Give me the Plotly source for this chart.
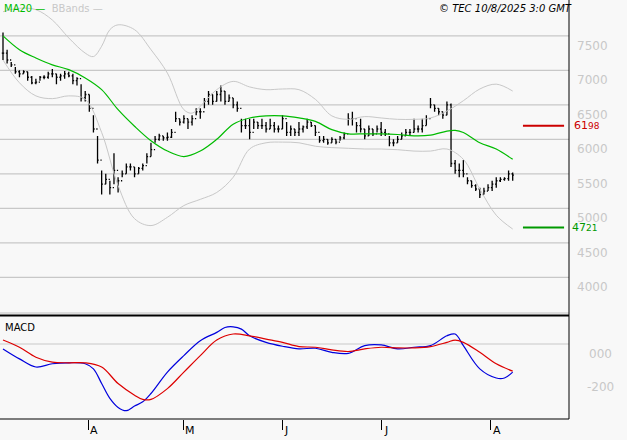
import plotly.graph_objects as go

highs = [7550,7300,7120,7050,7000,7000,6980,6920,6880,6920,6930,6980,7020,6950,6950,6990,6980,6950,6900,6800,
         6700,6650,6350,6050,5550,5500,5400,5800,5450,5550,5650,5650,5600,5600,5650,5800,5950,6050,6080,6050,
         6100,6150,6400,6300,6350,6300,6350,6450,6450,6600,6700,6650,6700,6780,6700,6650,6600,6550,6300,6300,
         6300,6300,6250,6300,6250,6300,6250,6200,6350,6250,6200,6150,6250,6200,6300,6250,6200,6050,6050,6000,
         6030,6000,6050,6100,6380,6400,6250,6300,6150,6200,6150,6200,6250,6150,6050,6000,6050,6100,6150,6150,
         6300,6200,6300,6350,6600,6500,6450,6400,6550,6520,5700,5650,5700,5450,5400,5350,5300,5300,5350,5400,
         5450,5450,5450,5550,5520]
lows = [7150,7100,7050,6950,6900,6950,6850,6800,6800,6850,6870,6880,6900,6800,6850,6880,6900,6800,6780,6550,
        6550,6400,6100,5650,5200,5350,5200,5350,5230,5450,5500,5550,5450,5500,5550,5650,5750,5950,5980,5980,
        5980,6020,6250,6200,6230,6150,6200,6350,6300,6450,6500,6500,6550,6550,6500,6550,6450,6400,6100,6150,
        6000,6150,6150,6150,6100,6150,6100,6100,6150,6050,6050,6050,6050,6100,6150,6180,6050,5950,5950,5920,
        5950,5930,5980,6000,6200,6200,6100,6100,6000,6050,6050,6100,6050,6050,5900,5900,5950,6000,6050,6050,
        6100,6100,6100,6200,6450,6400,6350,6300,6350,5600,5500,5450,5450,5350,5300,5250,5150,5200,5250,5250,
        5300,5380,5400,5400,5400]
closes = [7250,7150,7080,6980,6950,6980,6900,6820,6830,6900,6900,6950,6950,6900,6920,6950,6920,6850,6880,6600,
          6650,6450,6150,5700,5350,5420,5300,5550,5400,5500,5600,5600,5500,5580,5620,5750,5850,6000,6050,6020,
          6030,6100,6300,6250,6300,6250,6300,6400,6400,6550,6650,6550,6650,6700,6550,6600,6500,6450,6200,6200,
          6100,6250,6200,6200,6150,6200,6150,6150,6300,6100,6150,6100,6150,6180,6250,6200,6100,5980,6000,5950,
          6000,5960,6020,6080,6300,6300,6200,6150,6050,6150,6080,6150,6100,6080,5950,5950,6000,6050,6100,6100,
          6150,6150,6200,6300,6500,6450,6400,6350,6500,5650,5550,5550,5500,5400,5330,5280,5200,5250,5300,5350,
          5400,5420,5430,5500,5480]
opens = [closes[0]] + closes[:-1]
idx = list(range(len(closes)))

ma_x = [0,4,8,12,16,20,24,28,32,36,40,44,48,52,56,60,64,68,72,76,80,84,88,92,96,100,104,108,110,112,116,120,124]
ma20 = [7500,7300,7180,7080,7010,6890,6720,6430,6190,5980,5830,5750,5830,6000,6220,6310,6340,6340,6310,6260,
        6140,6080,6080,6080,6070,6050,6060,6120,6130,6100,5950,5860,5710]
up_x = [0,4,8,12,16,20,22,24,26,28,32,36,40,44,46,48,52,56,60,64,68,72,76,80,84,88,92,96,100,104,108,112,116,120,124]
upper = [7850,7900,7880,7730,7470,7250,7200,7350,7590,7660,7590,7300,6960,6430,6380,6480,6720,6840,6760,6720,
         6730,6720,6580,6340,6290,6330,6310,6290,6290,6310,6410,6560,6730,6800,6700]
lo_x = [0,4,8,12,16,20,24,28,32,36,40,44,48,52,56,60,64,68,72,76,80,84,88,92,96,100,104,108,112,116,120,124]
lower = [7150,6820,6630,6590,6630,6580,6100,5330,4850,4750,4870,5040,5130,5230,5450,5860,5950,5960,5950,5900,
         5880,5870,5860,5860,5850,5830,5830,5860,5710,5280,4900,4700]
macd_x = [0,4,8,12,16,20,22,24,26,28,30,32,34,36,40,44,48,52,54,56,58,60,64,68,72,76,80,84,88,92,96,100,104,108,110,112,116,120,122,124]
macd = [-30,-91,-141,-121,-115,-121,-152,-242,-333,-388,-408,-380,-354,-303,-172,-71,20,71,101,105,91,50,10,-14,
        -30,-26,-51,-57,-10,-6,-30,-20,-10,50,61,-10,-152,-208,-208,-172]
sig_x = [0,4,8,12,16,20,24,28,32,34,36,40,44,48,52,56,60,64,68,72,76,80,84,88,92,96,100,104,108,110,112,116,120,124]
signal = [24,-20,-81,-111,-115,-115,-141,-242,-313,-339,-339,-273,-172,-71,24,61,50,30,10,-16,-20,-36,-46,-30,
          -20,-24,-24,-16,10,24,10,-51,-121,-166]

price_ticks = [4000,4500,5000,5500,6000,6500,7000,7500]
macd_ticks = [0,-200]
macd_tick_text = ["000","-200"]
month_pos = [20.7,43.8,67.9,92.2,118.7]
month_labels = ["A","M","J","J","A"]
resistance, support = 6198, 4721

XR = [-0.73, 137.7]
PR = [3468, 8020]
MR = [-459, 159]
W, H = 627, 440
XD = [0, 569/W]
PD = [1-314/H, 1]
MD = [21/H, 122/H]

fig = go.Figure()
fig.add_trace(go.Ohlc(x=idx, open=opens, high=highs, low=lows, close=closes,
                      increasing=dict(line=dict(color="black", width=1.3)),
                      decreasing=dict(line=dict(color="black", width=1.3)),
                      tickwidth=0.3, showlegend=False, hoverinfo="skip"))
fig.add_trace(go.Scatter(x=up_x, y=upper, mode="lines", line=dict(color="#c8c8c8", width=1, shape="spline"), showlegend=False))
fig.add_trace(go.Scatter(x=lo_x, y=lower, mode="lines", line=dict(color="#c8c8c8", width=1, shape="spline"), showlegend=False))
fig.add_trace(go.Scatter(x=ma_x, y=ma20, mode="lines", line=dict(color="#00bb00", width=1.2, shape="spline"), showlegend=False))
fig.add_trace(go.Scatter(x=macd_x, y=macd, mode="lines", line=dict(color="#0000dd", width=1.2, shape="spline"),
                         xaxis="x2", yaxis="y2", showlegend=False))
fig.add_trace(go.Scatter(x=sig_x, y=signal, mode="lines", line=dict(color="#dd0000", width=1.2, shape="spline"),
                         xaxis="x2", yaxis="y2", showlegend=False))

shapes = []
for v in price_ticks:
    shapes.append(dict(type="line", xref="paper", yref="y", x0=0, x1=XD[1], y0=v, y1=v, line=dict(color="#c8c8c8", width=1.3), layer="below"))
shapes.append(dict(type="line", xref="paper", yref="y2", x0=0, x1=XD[1], y0=0, y1=0, line=dict(color="#c8c8c8", width=1), layer="below"))
shapes.append(dict(type="line", xref="x", yref="y", x0=126.5, x1=136.5, y0=resistance, y1=resistance, line=dict(color="#cc0000", width=2)))
shapes.append(dict(type="line", xref="x", yref="y", x0=126.5, x1=136.5, y0=support, y1=support, line=dict(color="#009900", width=2)))
shapes.append(dict(type="line", xref="paper", yref="paper", x0=0, x1=XD[1], y0=1-313/H, y1=1-313/H, line=dict(color="#c0c0c0", width=1)))
shapes.append(dict(type="line", xref="paper", yref="paper", x0=0, x1=XD[1], y0=1-315.5/H, y1=1-315.5/H, line=dict(color="black", width=2)))
shapes.append(dict(type="line", xref="paper", yref="paper", x0=0, x1=XD[1], y0=MD[0], y1=MD[0], line=dict(color="black", width=1)))
shapes.append(dict(type="line", xref="paper", yref="paper", x0=XD[1], x1=XD[1], y0=MD[0], y1=1, line=dict(color="black", width=1)))

ann = []
lab = dict(family="DejaVu Sans", size=12, color="#c8c8c8")
for v in price_ticks:
    ann.append(dict(xref="paper", yref="y", x=592/W, y=v, text=str(v), showarrow=False, font=lab, xanchor="center", yanchor="top", yshift=-1))
for v, t in zip(macd_ticks, macd_tick_text):
    ann.append(dict(xref="paper", yref="y2", x=600/W, y=v, text=t, showarrow=False, font=lab, xanchor="center", yanchor="top", yshift=-1))
for p, t in zip(month_pos, month_labels):
    ann.append(dict(xref="x2", yref="paper", x=p, y=MD[0], text=t, showarrow=False, xanchor="left", yanchor="top", yshift=-3,
                    font=dict(family="DejaVu Sans", size=11, color="black")))
ann.append(dict(xref="paper", yref="y", x=572/W, y=resistance, text="61<span style='font-size:9px'>98</span>", showarrow=False, xanchor="left",
                font=dict(family="DejaVu Sans", size=11, color="#cc0000")))
ann.append(dict(xref="paper", yref="y", x=570/W, y=support, text="47<span style='font-size:9px'>21</span>", showarrow=False, xanchor="left",
                font=dict(family="DejaVu Sans", size=11, color="#009900")))
ann.append(dict(xref="paper", yref="paper", x=2/W, y=1-1/H, xanchor="left", yanchor="top", showarrow=False,
                text="<span style='color:#00bb00'>MA20 —</span>  <span style='color:#c8c8c8'>BBands —</span>",
                font=dict(family="DejaVu Sans", size=10)))
ann.append(dict(xref="paper", yref="paper", x=574/W, y=1-1/H, xanchor="right", yanchor="top", showarrow=False,
                text="<i>© TEC 10/8/2025 3:0 GMT</i>", font=dict(family="DejaVu Sans", size=10, color="black")))
ann.append(dict(xref="paper", yref="paper", x=3/W, y=1-320/H, xanchor="left", yanchor="top", showarrow=False,
                text="MACD", font=dict(family="DejaVu Sans", size=10, color="black")))

fig.update_layout(
    width=W, height=H, margin=dict(l=0, r=0, t=0, b=0),
    paper_bgcolor="#f8f8f8", plot_bgcolor="#f8f8f8",
    xaxis=dict(domain=XD, range=XR, showgrid=False, zeroline=False, showticklabels=False, ticks="", rangeslider=dict(visible=False), anchor="y"),
    yaxis=dict(domain=PD, range=PR, showgrid=False, zeroline=False, showticklabels=False, anchor="x"),
    xaxis2=dict(domain=XD, range=XR, showgrid=False, zeroline=False, showticklabels=False, anchor="y2",
                ticks="outside", ticklen=10, tickcolor="black", tickwidth=1, tickvals=month_pos),
    yaxis2=dict(domain=MD, range=MR, showgrid=False, zeroline=False, showticklabels=False, anchor="x2"),
    shapes=shapes, annotations=ann, showlegend=False,
)
fig.write_html("out.html", config={"displayModeBar": False},
               post_script="document.body.style.margin='0';document.body.style.background='#f8f8f8';")
